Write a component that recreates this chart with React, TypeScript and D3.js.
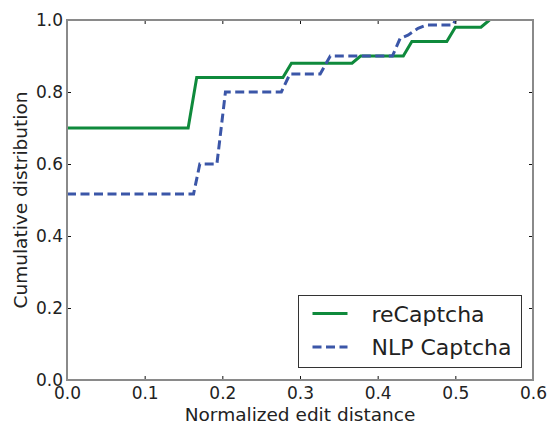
import React, { useEffect, useRef } from "react";
import * as d3 from "d3";

// values
const xTicks = [0, 0.1, 0.2, 0.3, 0.4, 0.5, 0.6];
const yTicks = [0, 0.2, 0.4, 0.6, 0.8, 1.0];

const recaptchaX = [0, 0.156, 0.167, 0.278, 0.289, 0.367, 0.378, 0.433, 0.444, 0.489, 0.5, 0.533, 0.544];
const recaptchaY = [0.7, 0.7, 0.84, 0.84, 0.88, 0.88, 0.9, 0.9, 0.94, 0.94, 0.98, 0.98, 1.0];

const nlpX = [0, 0.163, 0.171, 0.193, 0.204, 0.276, 0.287, 0.326, 0.339, 0.419, 0.429, 0.439, 0.452, 0.463, 0.497, 0.5];
const nlpY = [0.517, 0.517, 0.6, 0.6, 0.8, 0.8, 0.85, 0.85, 0.9, 0.9, 0.949, 0.958, 0.977, 0.986, 0.986, 1.0];

const seriesNames = ["reCaptcha", "NLP Captcha"];
const seriesColors = ["#0f8a3c", "#3b56a8"];

const W = 550;
const H = 423;
const margin = { top: 20, right: 17, bottom: 43, left: 67 };
const FONT = "DejaVu Sans, sans-serif";
const TEXT = "#222";

export default function App() {
  const ref = useRef<SVGSVGElement>(null);

  useEffect(() => {
    const svg = d3.select(ref.current);
    svg.selectAll("*").remove();

    const w = W - margin.left - margin.right;
    const h = H - margin.top - margin.bottom;

    const x = d3.scaleLinear().domain([0, 0.6]).range([0, w]);
    const y = d3.scaleLinear().domain([0, 1]).range([h, 0]);

    const g = svg.append("g").attr("transform", `translate(${margin.left},${margin.top})`);

    g.append("clipPath").attr("id", "plotclip")
      .append("rect").attr("width", w).attr("height", h);

    const line = d3.line<[number, number]>().x(d => x(d[0])).y(d => y(d[1]));

    const recaptcha = recaptchaX.map((v, i) => [v, recaptchaY[i]] as [number, number]);
    const nlp = nlpX.map((v, i) => [v, nlpY[i]] as [number, number]);

    // series lines
    g.append("path").datum(recaptcha)
      .attr("clip-path", "url(#plotclip)")
      .attr("d", line).attr("fill", "none")
      .attr("stroke", seriesColors[0]).attr("stroke-width", 3);

    g.append("path").datum(nlp)
      .attr("clip-path", "url(#plotclip)")
      .attr("d", line).attr("fill", "none")
      .attr("stroke", seriesColors[1]).attr("stroke-width", 3)
      .attr("stroke-dasharray", "9,4.5");

    const fmt = d3.format(".1f");

    // axes, ticks pointing inward
    const styleAxis = (sel: any) => {
      sel.select(".domain").remove();
      sel.selectAll("line").attr("stroke", "#111").attr("stroke-width", 1);
      sel.selectAll("text").attr("fill", TEXT).style("font-family", FONT).style("font-size", "17px");
    };

    g.append("g").attr("transform", `translate(0,${h})`)
      .call(d3.axisBottom(x).tickValues(xTicks).tickFormat(fmt as any).tickSizeInner(-4).tickSizeOuter(0).tickPadding(7))
      .call(styleAxis);
    g.append("g")
      .call(d3.axisTop(x).tickValues(xTicks).tickFormat(() => "").tickSizeInner(-4).tickSizeOuter(0))
      .call(styleAxis);
    g.append("g")
      .call(d3.axisLeft(y).tickValues(yTicks).tickFormat(fmt as any).tickSizeInner(-4).tickSizeOuter(0).tickPadding(4))
      .call(styleAxis);
    g.append("g").attr("transform", `translate(${w},0)`)
      .call(d3.axisRight(y).tickValues(yTicks).tickFormat(() => "").tickSizeInner(-4).tickSizeOuter(0))
      .call(styleAxis);

    // spines
    g.append("rect").attr("width", w).attr("height", h)
      .attr("fill", "none").attr("stroke", "#8a8a8a").attr("stroke-width", 2);

    // axis labels
    g.append("text")
      .attr("x", w / 2).attr("y", h + 41)
      .attr("text-anchor", "middle")
      .attr("fill", TEXT).style("font-family", FONT).style("font-size", "18.5px")
      .text("Normalized edit distance");

    g.append("text")
      .attr("transform", "rotate(-90)")
      .attr("x", -(h / 2) + 0).attr("y", -40)
      .attr("text-anchor", "middle")
      .attr("fill", TEXT).style("font-family", FONT).style("font-size", "18.5px")
      .text("Cumulative distribution");

    // legend
    const lg = svg.append("g").attr("transform", "translate(298.5,295.5)");
    lg.append("rect").attr("width", 223).attr("height", 72)
      .attr("fill", "white").attr("stroke", "#333").attr("stroke-width", 1);
    seriesNames.forEach((name, i) => {
      const row = lg.append("g").attr("transform", `translate(0,${18 + i * 33.5})`);
      row.append("line").attr("x1", 14).attr("x2", 49)
        .attr("stroke", seriesColors[i]).attr("stroke-width", 3)
        .attr("stroke-dasharray", i === 1 ? "9,4.5" : null);
      row.append("text").attr("x", 73).attr("y", 8)
        .attr("fill", TEXT).style("font-family", FONT).style("font-size", "22px")
        .text(name);
    });
  }, []);

  return (
    <svg ref={ref} width={W} height={H}
      style={{ position: "absolute", left: 0, top: 0, background: "white" }} />
  );
}
